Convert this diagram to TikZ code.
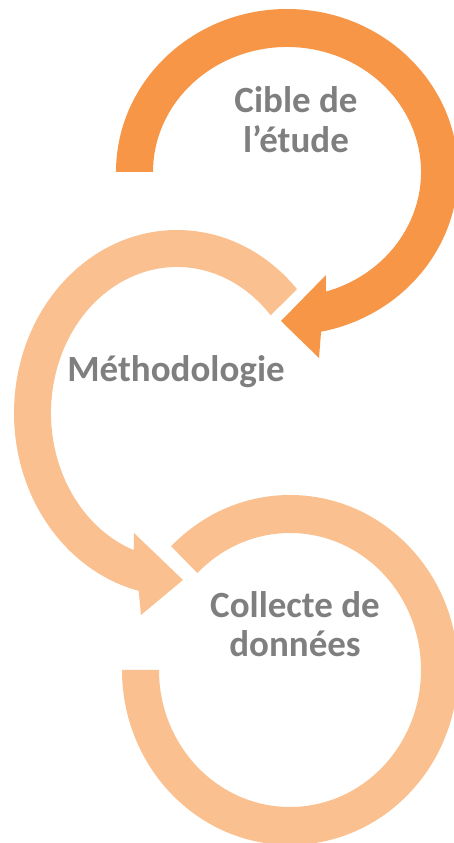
\documentclass[tikz,border=0pt]{standalone}
\usepackage{fontspec}
\setmainfont{Carlito}
\usetikzlibrary{calc}
\definecolor{darkorange}{HTML}{F79646}
\definecolor{paleorange}{HTML}{FAC090}
\definecolor{labelgray}{HTML}{7F7F7F}

\begin{document}
\begin{tikzpicture}[x=0.5pt, y=0.5pt,
    lbl/.style={font=\fontsize{18.5}{20}\selectfont\bfseries, text=labelgray, align=center, inner sep=0pt}]
    \useasboundingbox (0,0) rectangle (454,843);

    % Ring centres
    \coordinate (c1) at (287,671);
    \coordinate (c2) at (177,430);
    \coordinate (c3) at (290,173);

    % Top arrow (dark orange), head pointing down-left
    \fill[darkorange] ($(c1)+(180:171 and 163)$)
        arc[start angle=180, end angle=-78.5, x radius=171, y radius=163]
        -- (319,485) -- (281,522) -- (326,568)
        -- ($(c1)+(-73.1:134 and 125)$)
        arc[start angle=-73.1, end angle=180, x radius=134, y radius=125] -- cycle;

    % Middle arrow (pale orange), head pointing right
    \fill[paleorange] ($(c2)+(42.6:163 and 183)$)
        arc[start angle=42.6, end angle=256.4, x radius=163, y radius=183]
        -- (141,228) -- (183,263) -- (134,310)
        -- ($(c2)+(249.9:126 and 146)$)
        arc[start angle=249.9, end angle=42.0, x radius=126, y radius=146] -- cycle;

    % Bottom ring (pale orange), no head
    \fill[paleorange] ($(c3)+(135:168 and 175)$)
        arc[start angle=135, end angle=-180, x radius=168, y radius=175]
        -- ($(c3)+(-180:131 and 137)$)
        arc[start angle=-180, end angle=135, x radius=131, y radius=137] -- cycle;

    % Labels (base = baseline of last line)
    \node[lbl, anchor=base] (cible) at (296,690) {Cible de\\l’étude};
    \node[lbl, anchor=base] (methodo) at (176,461) {Méthodologie};
    \node[lbl, anchor=base] (collecte) at (295,186) {Collecte de\\données};
\end{tikzpicture}
\end{document}
